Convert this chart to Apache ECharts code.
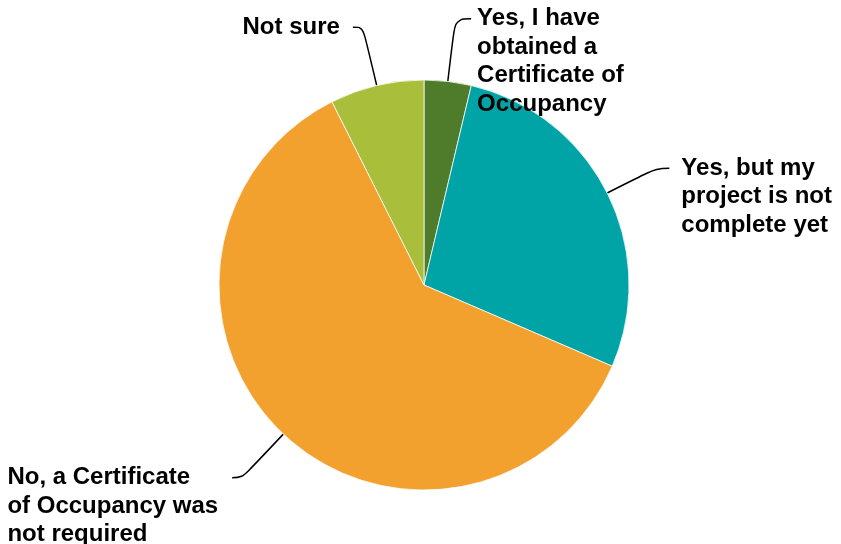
<!DOCTYPE html>
<html>
<head>
<meta charset="utf-8">
<script src="https://cdn.jsdelivr.net/npm/echarts@6/dist/echarts.min.js"></script>
<style>
  html, body { margin: 0; padding: 0; background: #fff; }
  #chart { width: 841px; height: 544px; }
</style>
</head>
<body>
<div id="chart"></div>
<script>
// Survey responses (number of respondents per answer)
const categories = [
  'Yes, I have\nobtained a\nCertificate of\nOccupancy',
  'Yes, but my\nproject is not\ncomplete yet',
  'No, a Certificate\nof Occupancy was\nnot required',
  'Not sure'
];
const counts = [2, 15, 33, 4];

// Slice colours
const colors = ['#4E7C2B', '#00A3A6', '#F2A02E', '#A9BE3A'];

// Leader-line geometry for each label
const LINE_HEIGHT = 28.5;
const labelGuides = [
  { length: 63, length2: 16, gap: 6 },
  { length: 55, length2: 13, gap: 12 },
  { length: 60, length2: 10, gap: 14 },
  { length: 60, length2: 10, gap: 13 }
];

const data = categories.map((name, i) => {
  const lines = name.split('\n').length;
  const g = labelGuides[i];
  return {
    name: name,
    value: counts[i],
    itemStyle: { color: colors[i] },
    label: {
      distanceToLabelLine: g.gap,
      // top padding keeps the first text line level with the leader line
      padding: [(lines - 1) * LINE_HEIGHT, 0, 0, 0]
    },
    labelLine: { length: g.length, length2: g.length2 }
  };
});

const chart = echarts.init(document.getElementById('chart'), null, { renderer: 'canvas' });
chart.setOption({
  animation: false,
  backgroundColor: '#fff',
  series: [{
    type: 'pie',
    center: [424, 285],
    radius: 205,
    startAngle: 90,
    clockwise: true,
    avoidLabelOverlap: false,
    data: data,
    itemStyle: { borderColor: 'rgba(255,255,255,0.75)', borderWidth: 1 },
    label: {
      show: true,
      position: 'outside',
      formatter: '{t|{b}}',
      rich: {
        t: {
          align: 'left',
          fontFamily: '"Liberation Sans", Arial, sans-serif',
          fontWeight: 'bold',
          fontSize: 24,
          lineHeight: LINE_HEIGHT,
          color: '#000'
        }
      }
    },
    labelLine: {
      show: true,
      smooth: 0.4,
      minTurnAngle: 0,
      lineStyle: { color: '#000', width: 1.5 }
    },
    emphasis: { disabled: true }
  }]
});
</script>
</body>
</html>
